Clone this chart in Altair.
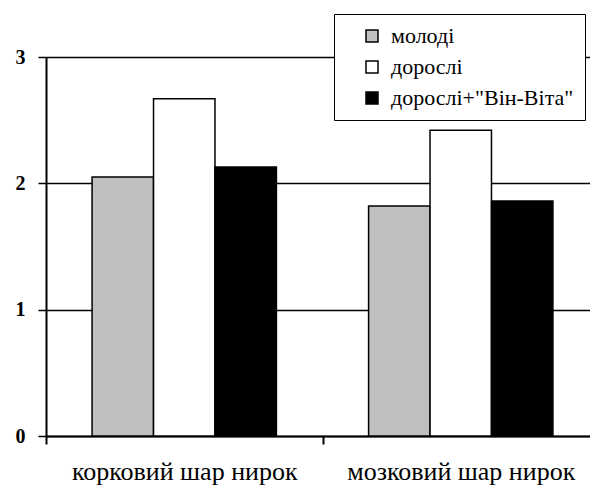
import altair as alt
import pandas as pd

regions = ["корковий шар нирок", "мозковий шар нирок"]
groups = ["молоді", "дорослі", "дорослі+\"Він-Віта\""]
young = [2.05, 1.82]
adult = [2.67, 2.42]
adult_vv = [2.13, 1.86]
colors = ["#c0c0c0", "#ffffff", "#000000"]
y_ticks = [0, 1, 2, 3]

rows = []
for i, r in enumerate(regions):
    for g, vals in zip(groups, [young, adult, adult_vv]):
        rows.append({"region": r, "group": g, "value": vals[i]})
df = pd.DataFrame(rows)

FONT = "Liberation Serif, Times New Roman, Liberation Sans, serif"

chart = alt.Chart(df).mark_bar(stroke="black", strokeWidth=1.5).encode(
    x=alt.X("region:N", sort=regions,
            scale=alt.Scale(range=[0, 553], paddingInner=0, paddingOuter=0),
            axis=alt.Axis(title=None, labelAngle=0, tickBand="extent",
                          domainColor="black", domainWidth=2,
                          tickColor="black", tickWidth=2, tickSize=8,
                          labelFont=FONT, labelFontSize=26, labelColor="black",
                          labelBaseline="alphabetic",
                          labelPadding=35, labelLimit=400)),
    xOffset=alt.XOffset("group:N", sort=groups,
                        scale=alt.Scale(domain=groups, paddingInner=0, paddingOuter=0.75)),
    y=alt.Y("value:Q", scale=alt.Scale(domain=[0, 3], nice=False),
            axis=alt.Axis(title=None, values=y_ticks, format="d",
                          grid=True, gridColor="black", gridWidth=1.5, gridOpacity=1,
                          domainColor="black", domainWidth=2,
                          tickColor="black", tickWidth=1.5, tickSize=8,
                          labelFont=FONT, labelFontSize=20, labelFontWeight="bold",
                          labelColor="black", labelPadding=13)),
    color=alt.Color("group:N", sort=groups,
                    scale=alt.Scale(domain=groups, range=colors),
                    legend=alt.Legend(title=None, orient="none", legendX=288, legendY=-43,
                                      strokeColor="black", fillColor="white", padding=11,
                                      symbolType="square", symbolSize=144,
                                      symbolStrokeColor="black", symbolStrokeWidth=1.5,
                                      symbolOffset=16, labelOffset=8,
                                      labelFont=FONT, labelFontSize=22, labelColor="black",
                                      rowPadding=9, labelLimit=400)),
).properties(
    width=544, height=379,
    autosize=alt.AutoSizeParams(type="none"),
    padding={"left": 46, "top": 57, "right": 0, "bottom": 52},
).configure_view(stroke=None)

chart.save("out.html", embed_options={"renderer": "svg", "actions": False})
